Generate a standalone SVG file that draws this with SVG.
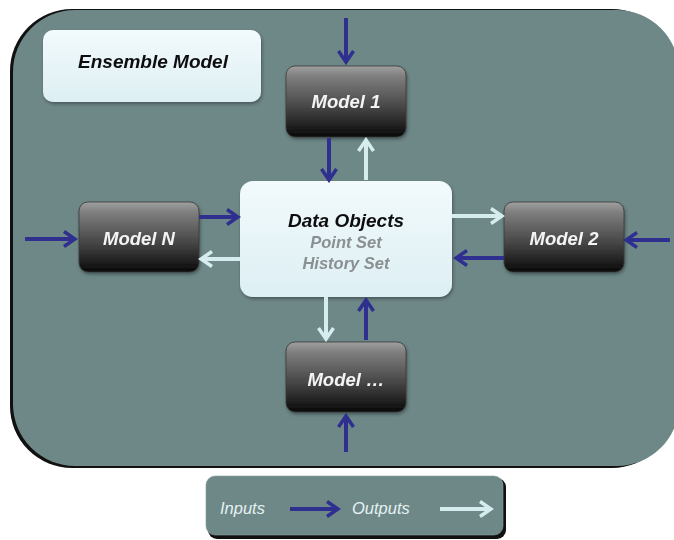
<svg xmlns="http://www.w3.org/2000/svg" width="674" height="540" viewBox="0 0 674 540">
<style>
.model rect{fill:url(#dark);stroke:#3a3a3a;stroke-width:0.8}
.model text{font-family:"Liberation Sans",Arial,sans-serif;font-weight:bold;font-style:italic;font-size:18.5px;fill:#f4f4f4;text-anchor:middle}
.in{stroke:#2E2F8F;stroke-width:4;fill:none;marker-end:url(#hb)}
.out{stroke:#D6ECEE;stroke-width:4;fill:none;marker-end:url(#hl)}
.leg{font-family:"Liberation Sans",Arial,sans-serif;font-style:italic;font-size:16.5px;fill:#E4F2F2}
</style>
<defs>
<linearGradient id="dark" x1="0" y1="0" x2="0" y2="1">
<stop offset="0" stop-color="#a0a0a0"/>
<stop offset="0.15" stop-color="#7e7e7e"/>
<stop offset="0.55" stop-color="#4a4a4a"/>
<stop offset="1" stop-color="#0a0a0a"/>
</linearGradient>
<linearGradient id="light" x1="0" y1="0" x2="0" y2="1">
<stop offset="0" stop-color="#F2FAFC"/>
<stop offset="1" stop-color="#DDEFF3"/>
</linearGradient>
<filter id="sh" x="-10%" y="-10%" width="125%" height="130%">
<feDropShadow dx="1" dy="2" stdDeviation="1.5" flood-color="#1a2a2a" flood-opacity="0.5"/>
</filter>
<marker id="hb" markerUnits="userSpaceOnUse" markerWidth="16" markerHeight="18" viewBox="0 0 16 18" refX="13" refY="9" orient="auto">
<path d="M2,1.5 L13,9 L2,16.5" fill="none" stroke="#2E2F8F" stroke-width="3.5"/>
</marker>
<marker id="hl" markerUnits="userSpaceOnUse" markerWidth="16" markerHeight="18" viewBox="0 0 16 18" refX="13" refY="9" orient="auto">
<path d="M2,1.5 L13,9 L2,16.5" fill="none" stroke="#D6ECEE" stroke-width="3.5"/>
</marker>
</defs>
<rect width="674" height="540" fill="#ffffff"/>
<g id="frame">
<rect x="10" y="9" width="664" height="459" rx="62" fill="#111"/>
<rect x="13" y="10" width="666" height="456" rx="62" fill="#6E8787"/>
</g>
<g id="ensemble" filter="url(#sh)">
<rect x="43" y="30" width="218" height="72" rx="10" fill="url(#light)"/>
<text x="153" y="68" font-family="Liberation Sans,Arial,sans-serif" font-weight="bold" font-style="italic" font-size="19" fill="#111" text-anchor="middle">Ensemble Model</text>
</g>
<g id="data-objects" filter="url(#sh)">
<rect x="240" y="181" width="212" height="116" rx="13" fill="url(#light)"/>
<text x="346" y="227" font-family="Liberation Sans,Arial,sans-serif" font-weight="bold" font-style="italic" font-size="19" fill="#111" text-anchor="middle">Data Objects</text>
<text x="346" y="248" font-family="Liberation Sans,Arial,sans-serif" font-weight="bold" font-style="italic" font-size="16.5" fill="#8a8f91" text-anchor="middle">Point Set</text>
<text x="346" y="269" font-family="Liberation Sans,Arial,sans-serif" font-weight="bold" font-style="italic" font-size="16.5" fill="#8a8f91" text-anchor="middle">History Set</text>
</g>
<g id="model-1" class="model" filter="url(#sh)">
<rect x="286" y="66" width="120" height="71" rx="9"/>
<text x="346" y="108">Model 1</text>
</g>
<g id="model-n" class="model" filter="url(#sh)">
<rect x="79" y="202" width="120" height="70" rx="9"/>
<text x="139" y="245">Model N</text>
</g>
<g id="model-2" class="model" filter="url(#sh)">
<rect x="504" y="202" width="120" height="70" rx="9"/>
<text x="564" y="245">Model 2</text>
</g>
<g id="model-etc" class="model" filter="url(#sh)">
<rect x="286" y="342" width="120" height="70" rx="9"/>
<text x="346" y="386">Model …</text>
</g>
<g id="connectors">
<line class="in" x1="346" y1="18" x2="346" y2="62"/>
<line class="in" x1="329" y1="138" x2="329" y2="180"/>
<line class="out" x1="366" y1="180" x2="366" y2="140"/>
<line class="in" x1="25" y1="239" x2="75" y2="239"/>
<line class="in" x1="199" y1="217" x2="238" y2="217"/>
<line class="out" x1="240" y1="259" x2="201" y2="259"/>
<line class="out" x1="452" y1="216" x2="502" y2="216"/>
<line class="in" x1="504" y1="258" x2="456" y2="258"/>
<line class="in" x1="670" y1="240" x2="626" y2="240"/>
<line class="out" x1="326" y1="297" x2="326" y2="339"/>
<line class="in" x1="366" y1="340" x2="366" y2="300"/>
<line class="in" x1="346" y1="452" x2="346" y2="416"/>
</g>
<g id="legend">
<rect x="208" y="478" width="298" height="61" rx="9" fill="#111"/>
<rect x="206" y="476" width="297" height="59" rx="9" fill="#6E8787" stroke="#8aa0a0" stroke-width="0.6"/>
<text class="leg" x="220" y="514">Inputs</text>
<line class="in" x1="290" y1="509" x2="338" y2="509"/>
<text class="leg" x="352" y="514">Outputs</text>
<line class="out" x1="440" y1="509" x2="491" y2="509"/>
</g>
</svg>
